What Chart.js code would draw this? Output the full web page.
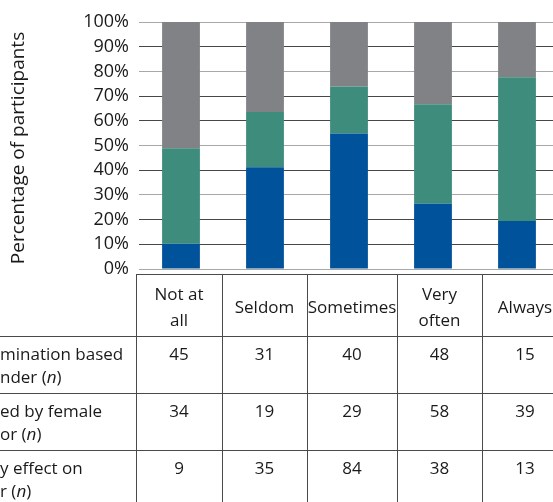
<!DOCTYPE html>
<html><head><meta charset="utf-8">
<script src="https://cdn.jsdelivr.net/npm/chart.js@4/dist/chart.umd.min.js"></script>
<style>html,body{margin:0;padding:0;overflow:hidden;background:#fff}#wrap{position:absolute;left:0;top:0;width:570px;height:502px}</style>
</head><body><div id="wrap"><canvas id="c" width="570" height="502"></canvas></div>
<script>
const categories = ['Not at all', 'Seldom', 'Sometimes', 'Very often', 'Always'];
const headerLines = [['Not at', 'all'], ['Seldom'], ['Sometimes'], ['Very', 'often'], ['Always']];
const discrimination = [45, 31, 40, 48, 15];
const femaleSupport = [34, 19, 29, 58, 39];
const careerEffect = [9, 35, 84, 38, 13];
const rowLabels = [['mination based', 'nder (', 'n', ')'], ['ed by female', 'or (', 'n', ')'], ['y effect on', 'r (', 'n', ')']];
const yTicks = ['0%','10%','20%','30%','40%','50%','60%','70%','80%','90%','100%'];

const totals = categories.map((_, i) => discrimination[i] + femaleSupport[i] + careerEffect[i]);
const pct = arr => arr.map((v, i) => v / totals[i] * 100);

const FONT = '"Open Sans", sans-serif';
const TFS = '17px ';
const gridCols = ['#a8a8a8','#474747','#474747','#a8a8a8','#474747','#a8a8a8','#474747','#474747','#a8a8a8','#474747','#a8a8a8'];

const tablePlugin = {
  id: 'tbl',
  afterDraw(chart) {
    const ctx = chart.ctx;
    const cols = [136, 222, 307, 397, 482, 568];
    const rows = [274, 336, 393, 450, 507];
    ctx.save();
    ctx.strokeStyle = '#4a4a4a';
    ctx.lineWidth = 1;
    ctx.beginPath();
    ctx.moveTo(cols[0], rows[0] + 0.5); ctx.lineTo(cols[5], rows[0] + 0.5);
    for (let r = 1; r < rows.length; r++) { ctx.moveTo(0, rows[r] + 0.5); ctx.lineTo(cols[5], rows[r] + 0.5); }
    for (const c of cols) { ctx.moveTo(c + 0.5, rows[0]); ctx.lineTo(c + 0.5, rows[4]); }
    ctx.stroke();
    ctx.fillStyle = '#1a1a1a';
    ctx.font = TFS + FONT;
    ctx.textAlign = 'center';
    ctx.textBaseline = 'middle';
    headerLines.forEach((lines, i) => {
      const cx = (cols[i] + cols[i + 1]) / 2;
      if (lines.length === 1) ctx.fillText(lines[0], cx, 308);
      else { ctx.fillText(lines[0], cx, 295); ctx.fillText(lines[1], cx, 321); }
    });
    const series = [discrimination, femaleSupport, careerEffect];
    series.forEach((s, r) => {
      s.forEach((v, i) => {
        const cx = (cols[i] + cols[i + 1]) / 2;
        ctx.fillText(String(v), cx, rows[r + 1] + 19);
      });
    });
    ctx.textAlign = 'left';
    rowLabels.forEach((lab, r) => {
      const top = rows[r + 1];
      ctx.font = TFS + FONT;
      ctx.fillText(lab[0], 0, top + 19);
      let x = 0;
      ctx.fillText(lab[1], x, top + 42); x += ctx.measureText(lab[1]).width;
      ctx.font = 'italic ' + TFS + FONT;
      ctx.fillText(lab[2], x, top + 42); x += ctx.measureText(lab[2]).width;
      ctx.font = TFS + FONT;
      ctx.fillText(lab[3], x, top + 42);
    });
    ctx.save();
    ctx.translate(19, 148);
    ctx.rotate(-Math.PI / 2);
    ctx.textAlign = 'center';
    ctx.font = '19px ' + FONT;
    ctx.fillText('Percentage of participants', 0, 0);
    ctx.restore();
    ctx.restore();
  }
};

new Chart(document.getElementById('c'), {
  type: 'bar',
  data: {
    labels: categories,
    datasets: [
      { label: 'Effect on career', data: pct(careerEffect), backgroundColor: '#00539b' },
      { label: 'Supported by female', data: pct(femaleSupport), backgroundColor: '#3e8c7c' },
      { label: 'Discrimination based on gender', data: pct(discrimination), backgroundColor: '#808285' }
    ]
  },
  options: {
    responsive: false,
    animation: false,
    devicePixelRatio: 1,
    layout: { padding: { top: 22, right: 11, bottom: 233, left: 0 } },
    plugins: { legend: { display: false }, tooltip: { enabled: false } },
    datasets: { bar: { barPercentage: 0.9, categoryPercentage: 0.5 } },
    scales: {
      x: {
        display: false,
        stacked: true
      },
      y: {
        stacked: true,
        min: 0, max: 100,
        afterFit: s => { s.width = 139; },
        afterBuildTicks: s => { s.ticks = yTicks.map((_, i) => ({ value: i * 10 })); },
        grid: { drawTicks: false, color: ctx => gridCols[ctx.index] || '#888', lineWidth: 1 },
        border: { display: false },
        ticks: {
          padding: 10,
          color: '#1a1a1a',
          font: { family: FONT, size: 18 },
          callback: (v, i) => yTicks[i]
        }
      }
    }
  },
  plugins: [tablePlugin]
});
</script></body></html>
